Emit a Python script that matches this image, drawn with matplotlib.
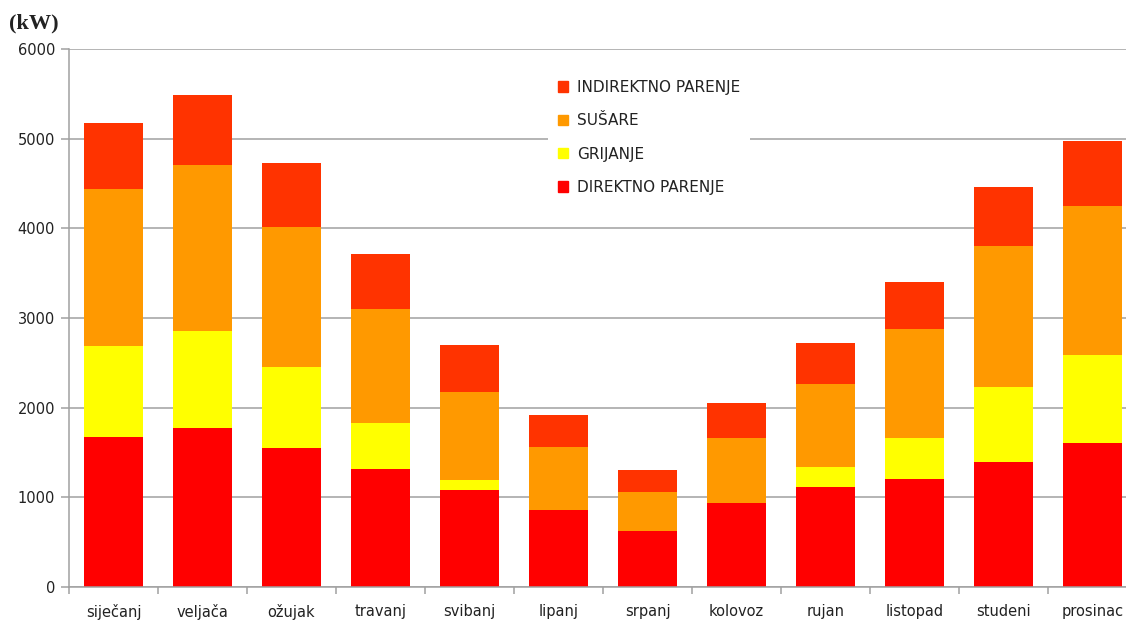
import matplotlib
matplotlib.use("Agg")
import matplotlib.pyplot as plt
import numpy as np
from matplotlib.patches import Patch

months = ["siječanj", "veljača", "ožujak", "travanj", "svibanj", "lipanj",
          "srpanj", "kolovoz", "rujan", "listopad", "studeni", "prosinac"]
direktno = [1673, 1773, 1550, 1316, 1082, 859, 625, 937, 1115, 1204, 1394, 1606]
grijanje = [1015, 1082, 903, 513, 111, 0, 0, 0, 223, 458, 836, 981]
susare = [1750, 1851, 1562, 1271, 982, 702, 434, 725, 926, 1215, 1573, 1662]
indirektno = [737, 781, 713, 614, 524, 357, 246, 390, 457, 524, 658, 725]

colors = {"DIREKTNO PARENJE": "#FF0000", "GRIJANJE": "#FFFF00",
          "SUŠARE": "#FF9900", "INDIREKTNO PARENJE": "#FF3300"}

fig = plt.figure(figsize=(11.26, 6.21), dpi=100)
W, H = 1126, 621
ax = fig.add_axes([69 / W, (H - 587) / H, 1068 / W, (587 - 49) / H])

x = np.arange(len(months))
bw = 0.66
b1 = np.array(direktno)
b2 = b1 + np.array(grijanje)
b3 = b2 + np.array(susare)
ax.bar(x, direktno, bw, color=colors["DIREKTNO PARENJE"], zorder=2)
ax.bar(x, grijanje, bw, bottom=b1, color=colors["GRIJANJE"], zorder=2)
ax.bar(x, susare, bw, bottom=b2, color=colors["SUŠARE"], zorder=2)
ax.bar(x, indirektno, bw, bottom=b3, color=colors["INDIREKTNO PARENJE"], zorder=2)

ax.set_xlim(-0.5, len(months) - 0.5)
ax.set_ylim(0, 6000)
ax.set_yticks(np.arange(0, 6001, 1000))
ax.set_yticklabels([str(v) for v in range(0, 6001, 1000)], fontsize=10.5, color="#222222")
ax.yaxis.grid(True, color="#a0a0a0", linewidth=1.1, zorder=0)
ax.set_axisbelow(True)

ax.set_xticks(x)
ax.set_xticklabels(months, fontsize=10.5, color="#222222")
ax.tick_params(axis="x", which="major", length=0, pad=12)
ax.set_xticks(np.arange(-0.5, len(months), 1.0), minor=True)
ax.tick_params(axis="x", which="minor", length=5, color="#a0a0a0", width=1.1)
ax.tick_params(axis="y", length=6, color="#a0a0a0", width=1.1, pad=4)

for s in ["top", "right"]:
    ax.spines[s].set_visible(False)
for s in ["left", "bottom"]:
    ax.spines[s].set_color("#a0a0a0")
    ax.spines[s].set_linewidth(1.1)

labels = ["INDIREKTNO PARENJE", "SUŠARE", "GRIJANJE", "DIREKTNO PARENJE"]
handles = [Patch(color=colors[k]) for k in labels]
leg = fig.legend(handles, labels, loc="upper left", bbox_to_anchor=(548 / W, 1 - 70 / H),
                 frameon=True, fancybox=False, edgecolor="white", facecolor="white",
                 fontsize=11, handlelength=0.65, handleheight=0.65, handletextpad=0.6,
                 labelspacing=1.2, borderpad=0.65, borderaxespad=0)
for t in leg.get_texts():
    t.set_color("#222222")
leg.get_frame().set_alpha(1.0)
leg.get_frame().set_linewidth(0)

fig.text(9 / W, 1 - 23 / H, "(kW)", fontsize=16, fontweight="bold",
         family="Liberation Serif", va="center", ha="left", color="#222222")

fig.savefig("out.png", dpi=100)
